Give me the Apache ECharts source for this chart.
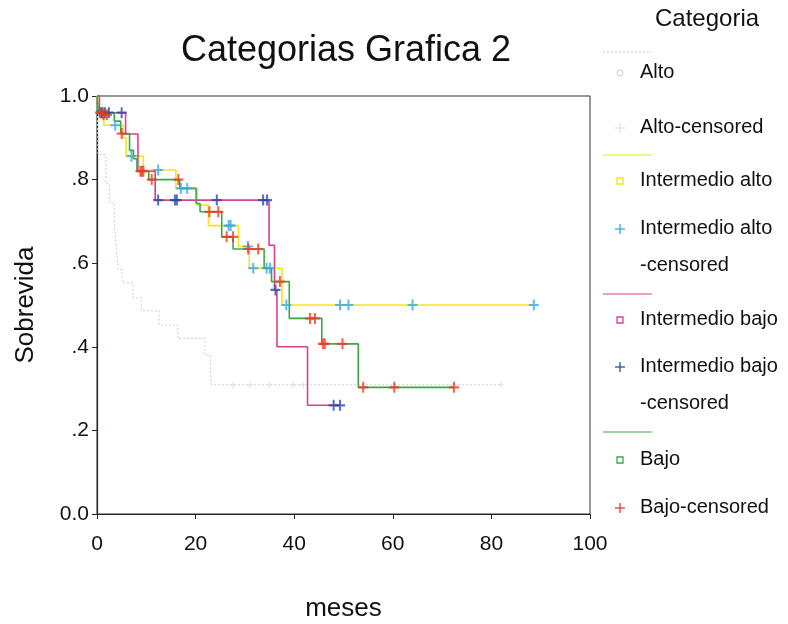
<!DOCTYPE html>
<html>
<head>
<meta charset="utf-8">
<script src="https://cdn.jsdelivr.net/npm/echarts@6/dist/echarts.min.js"></script>
<style>
  html, body { margin: 0; padding: 0; background: #fff; }
  #main { width: 788px; height: 624px; }
</style>
</head>
<body>
<div id="main"></div>
<script>
// curvas de supervivencia [meses, sobrevida]
var altoCurve = [[0,1],[0.2,0.86],[1.8,0.79],[2.5,0.745],[3.5,0.695],[3.9,0.64],[4.3,0.585],[5.1,0.553],[7.3,0.517],[9,0.486],[12.6,0.452],[16.4,0.42],[21.9,0.38],[23,0.342],[23.3,0.309],[82,0.309]];
var altoCens = [[27.6,0.309],[31,0.309],[35,0.309],[39.8,0.309],[41.8,0.309],[82,0.309]];

var intAltoCurve = [[0,1],[0.4,0.96],[1.4,0.93],[5.3,0.90],[5.9,0.856],[9.4,0.823],[16,0.779],[20.3,0.739],[22.6,0.69],[28.7,0.64],[30.9,0.588],[37.5,0.50],[88.6,0.50]];
var intAltoCens = [[0.8,0.96],[1.3,0.96],[3.7,0.93],[7,0.856],[12.4,0.823],[17,0.779],[18.3,0.779],[26.7,0.69],[27.1,0.69],[30.6,0.64],[31.7,0.588],[34.4,0.588],[35.1,0.588],[38.4,0.50],[49.3,0.50],[51,0.50],[64,0.50],[88.6,0.50]];

var intBajoCurve = [[0,1],[0.5,0.96],[5.8,0.909],[8.3,0.82],[11.8,0.751],[34.9,0.643],[36.0,0.536],[36.5,0.40],[42.7,0.26],[49.3,0.26]];
var intBajoCens = [[1,0.96],[1.6,0.96],[2.4,0.96],[5,0.96],[12.4,0.751],[15.8,0.751],[16.2,0.751],[24.3,0.751],[33.7,0.751],[34.5,0.751],[36.2,0.536],[48,0.26],[49.3,0.26]];

var bajoCurve = [[0,1],[0.3,0.96],[3.5,0.94],[4.8,0.91],[6.6,0.87],[7.4,0.85],[8.1,0.82],[10.5,0.80],[16.8,0.779],[20.1,0.743],[20.9,0.723],[25.3,0.663],[27.6,0.634],[33.9,0.588],[35.4,0.556],[39,0.468],[45.6,0.407],[53,0.303],[72.4,0.303]];
var bajoCens = [[0.6,0.96],[1.3,0.955],[2,0.955],[5,0.91],[8.8,0.82],[9.1,0.82],[9.4,0.82],[11.1,0.80],[16.5,0.80],[22.8,0.723],[24.6,0.723],[26.3,0.663],[27.6,0.663],[30.7,0.634],[32.7,0.634],[37.1,0.556],[43.2,0.468],[44.2,0.468],[45.8,0.407],[46.2,0.407],[49.8,0.407],[54,0.303],[60.3,0.303],[72.4,0.303]];

var xTicks = [0, 20, 40, 60, 80, 100];

var colAlto = '#d2c6c8';
var colAltoLeg = '#f2c4cc';
var colYellow = '#f2e61e';
var colCyan = '#3aa8e8';
var colMagenta = '#dc3f8e';
var colBlue = '#2a4aa8';
var colGreen = '#3aa84a';
var colRed = '#ee3a22';

var plus = 'path://M4,0h2v4h4v2h-4v4h-2v-4h-4v-2h4z';
var fontF = 'Liberation Sans, Arial, sans-serif';

function stepLine(name, data, color, dotted) {
    return {
        name: name,
        type: 'line',
        step: 'end',
        showSymbol: false,
        silent: true,
        data: data,
        lineStyle: { color: color, width: dotted ? 1 : 1.6, type: dotted ? [2, 2] : 'solid' },
        z: 2
    };
}
function censored(name, data, color, size) {
    return {
        name: name,
        type: 'scatter',
        symbol: plus,
        symbolSize: size || [10, 11],
        data: data,
        itemStyle: { color: color },
        z: 3
    };
}

// leyenda a la derecha dibujada a mano
var legendItems = [];
function legText(txt, y) {
    legendItems.push({ type: 'text', left: 640, top: y - 11, style: { text: txt, font: '20px ' + fontF, fill: '#111' } });
}
function legLine(color, y, dotted) {
    legendItems.push({ type: 'line', shape: { x1: 603, y1: y, x2: 652, y2: y }, style: { stroke: color, lineWidth: 1.2, lineDash: dotted ? [2, 2] : null } });
}
function legSquare(color, y) {
    legendItems.push({ type: 'rect', shape: { x: 617, y: y - 3, width: 6, height: 6 }, style: { stroke: color, fill: 'none', lineWidth: 1.3 } });
}
function legPlus(color, y) {
    legendItems.push({ type: 'line', shape: { x1: 615, y1: y, x2: 625, y2: y }, style: { stroke: color, lineWidth: 1.3 } });
    legendItems.push({ type: 'line', shape: { x1: 620, y1: y - 5, x2: 620, y2: y + 5 }, style: { stroke: color, lineWidth: 1.3 } });
}
legendItems.push({ type: 'text', left: 655, top: 7, style: { text: 'Categoria', font: '24px ' + fontF, fill: '#111' } });
legLine(colAltoLeg, 52, true);
legendItems.push({ type: 'circle', shape: { cx: 620, cy: 73, r: 3 }, style: { stroke: '#ccc', fill: 'none', lineWidth: 1 } });
legText('Alto', 73);
legPlus('#e4e4e4', 128);
legText('Alto-censored', 128);
legLine(colYellow, 155);
legSquare(colYellow, 181);
legText('Intermedio alto', 181);
legPlus(colCyan, 229);
legText('Intermedio alto', 229);
legText('-censored', 266);
legLine(colMagenta, 294);
legSquare(colMagenta, 320);
legText('Intermedio bajo', 320);
legPlus(colBlue, 367);
legText('Intermedio bajo', 367);
legText('-censored', 404);
legLine(colGreen, 432);
legSquare(colGreen, 460);
legText('Bajo', 460);
legPlus(colRed, 508);
legText('Bajo-censored', 508);

var myChart = echarts.init(document.getElementById('main'));

var option = {
    backgroundColor: '#fff',
    animation: false,
    title: {
        text: 'Categorias Grafica 2',
        left: 341,
        top: 28,
        textAlign: 'center',
        textStyle: { fontFamily: fontF, fontSize: 36, fontWeight: 'normal', color: '#111' }
    },
    grid: {
        left: 97,
        top: 96,
        width: 493,
        height: 418,
        containLabel: false,
        outerBoundsMode: 'none',
        show: true,
        borderColor: '#2a342c',
        borderWidth: 1
    },
    xAxis: {
        type: 'value',
        min: 0,
        max: 100,
        interval: 20,
        name: 'meses',
        nameLocation: 'middle',
        nameGap: 82,
        nameTextStyle: { fontFamily: fontF, fontSize: 26, color: '#111' },
        axisLine: { lineStyle: { color: '#1e2a22', width: 1.2 } },
        axisTick: { show: true, length: 5, lineStyle: { color: '#1e2a22' } },
        axisLabel: {
            margin: 20,
            fontFamily: fontF, fontSize: 21, color: '#111',
            formatter: function (v) { return xTicks.indexOf(v) >= 0 ? String(v) : ''; }
        },
        splitLine: { show: false }
    },
    yAxis: {
        type: 'value',
        min: 0,
        max: 1,
        interval: 0.2,
        name: 'Sobrevida',
        nameLocation: 'middle',
        nameGap: 58,
        nameRotate: 90,
        nameTextStyle: { fontFamily: fontF, fontSize: 26, color: '#111' },
        axisLine: { show: true, lineStyle: { color: '#1e2a22', width: 1.2 } },
        axisTick: { show: true, length: 5, lineStyle: { color: '#1e2a22' } },
        axisLabel: {
            margin: 8,
            fontFamily: fontF, fontSize: 21, color: '#111',
            formatter: function (v) {
                if (v === 0) return '0.0';
                if (v === 1) return '1.0';
                return v.toFixed(1).replace(/^0/, '');
            }
        },
        splitLine: { show: false }
    },
    graphic: legendItems,
    series: [
        stepLine('Alto', altoCurve, colAlto, true),
        censored('Alto-censored', altoCens, '#e6dcdc', [6, 7]),
        stepLine('Intermedio alto', intAltoCurve, colYellow),
        censored('Intermedio alto-censored', intAltoCens, colCyan),
        stepLine('Intermedio bajo', intBajoCurve, colMagenta),
        censored('Intermedio bajo-censored', intBajoCens, colBlue),
        stepLine('Bajo', bajoCurve, colGreen),
        censored('Bajo-censored', bajoCens, colRed)
    ]
};

myChart.setOption(option);
</script>
</body>
</html>
